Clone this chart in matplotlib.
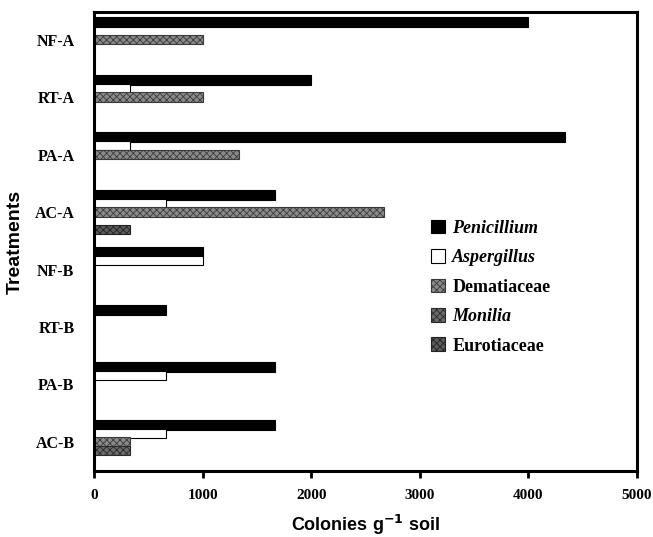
import matplotlib
matplotlib.use("Agg")
import matplotlib.pyplot as plt
import numpy as np

treatments = ["NF-A", "RT-A", "PA-A", "AC-A", "NF-B", "RT-B", "PA-B", "AC-B"]
series_names = ["Penicillium", "Aspergillus", "Dematiaceae", "Monilia", "Eurotiaceae"]
penicillium = [4000, 2000, 4333, 1667, 1000, 667, 1667, 1667]
aspergillus = [0, 333, 333, 667, 1000, 0, 667, 667]
dematiaceae = [1000, 1000, 1333, 2667, 0, 0, 0, 333]
monilia = [0, 0, 0, 0, 0, 0, 0, 333]
eurotiaceae = [0, 0, 0, 333, 0, 0, 0, 0]
xticks = [0, 1000, 2000, 3000, 4000, 5000]

series = [penicillium, aspergillus, dematiaceae, monilia, eurotiaceae]
faces = ["black", "white", "#8a8a8a", "#6a6a6a", "#5a5a5a"]
hatch_col = ["black", "black", "#3a3a3a", "#2a2a2a", "#222222"]
hatches = [None, None, "xxxxx", "xxxxx", "xxxxx"]
italic = [True, True, False, True, False]
heights = [0.18, 0.155, 0.16, 0.16, 0.16]

plt.rcParams['hatch.linewidth'] = 0.6

fig = plt.figure(figsize=(6.53, 5.37), dpi=100)
ax = fig.add_axes([0.144, 0.1229, 0.8315, 0.8548])

y = np.arange(len(treatments))
step = 0.15
for k, vals in enumerate(series):
    off = (k - 2) * step
    ax.barh(y + off, vals, height=heights[k], color=faces[k],
            edgecolor=hatch_col[k] if k > 1 else "black",
            linewidth=0.8, hatch=hatches[k], label=series_names[k])

ax.set_xlim(0, 5000)
ax.set_ylim(7.505, -0.48)
ax.set_xticks(xticks)
ax.set_xticklabels([str(t) for t in xticks], fontfamily="Liberation Serif", fontweight="bold", fontsize=11)
ax.set_yticks(y)
ax.set_yticklabels(treatments, fontfamily="Liberation Serif", fontweight="bold", fontsize=11.5)
ax.tick_params(axis="y", length=0, pad=14)
ax.tick_params(axis="x", length=5, width=2, direction="out", pad=8)
for s in ax.spines.values():
    s.set_linewidth(2.2)

ax.set_xlabel("Colonies g$^{\\mathbf{-1}}$ soil", fontfamily="Liberation Sans", fontweight="bold", fontsize=13, labelpad=8)
ax.set_ylabel("Treatments", fontfamily="Liberation Sans", fontweight="bold", fontsize=14, labelpad=8)

leg = ax.legend(loc="upper left", bbox_to_anchor=(0.59, 0.583), frameon=False,
                prop={"family": "Liberation Serif", "weight": "bold", "size": 13},
                handlelength=0.8, handleheight=0.8, handletextpad=0.4, labelspacing=0.68)
for t, it in zip(leg.get_texts(), italic):
    if it:
        t.set_fontstyle("italic")

fig.savefig("out.png", dpi=100)
